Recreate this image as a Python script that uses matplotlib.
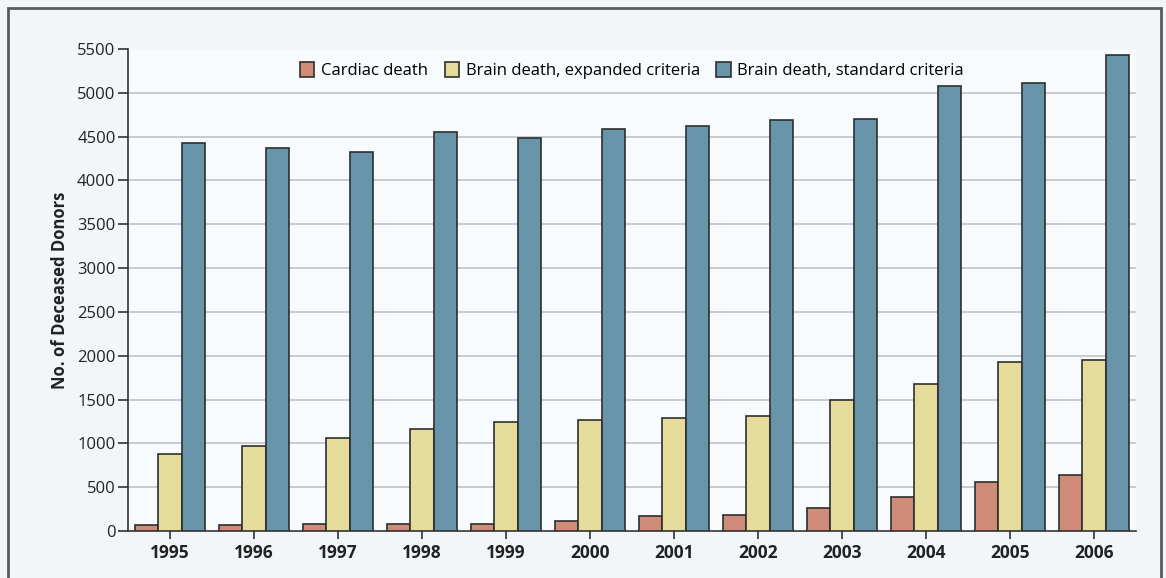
import matplotlib.pyplot as plt
import matplotlib.patches as mpatches
import numpy as np

plt.rcParams["font.family"] = ["Open Sans", "DejaVu Sans"]

YEARS = ["1995", "1996", "1997", "1998", "1999", "2000",
         "2001", "2002", "2003", "2004", "2005", "2006"]
CARDIAC = [65, 72, 80, 80, 85, 112, 167, 186, 266, 388, 559, 643]
EXPANDED = [875, 970, 1061, 1164, 1248, 1267, 1286, 1312, 1490, 1675, 1930, 1950]
STANDARD = [4422, 4370, 4330, 4549, 4490, 4592, 4625, 4686, 4697, 5080, 5110, 5430]

SERIES = [
    ("Cardiac death", CARDIAC, "#d08c78"),
    ("Brain death, expanded criteria", EXPANDED, "#e5dc9c"),
    ("Brain death, standard criteria", STANDARD, "#6895aa"),
]

fig = plt.figure(figsize=(11.66, 5.78), dpi=100, facecolor="#f3f6f9")
ax = fig.add_axes([0.1098, 0.0813, 0.8645, 0.8339])
ax.set_facecolor("#f7fbfe")

x = np.arange(len(YEARS))
w = 0.275
for i, (name, vals, col) in enumerate(SERIES):
    ax.bar(x + (i - 1) * w, vals, w, color=col, edgecolor="#2e2e2e",
           linewidth=1.2, label=name, zorder=3)

ax.set_xlim(-0.5, len(YEARS) - 0.5)
ax.set_ylim(0, 5500)
ax.set_yticks(np.arange(0, 5501, 500))
ax.set_xticks(x)
ax.set_xticklabels(YEARS, fontweight="bold")
ax.tick_params(axis="y", length=7, width=1.2, color="#333333", labelsize=12, pad=2,
               labelcolor="#222222")
ax.tick_params(axis="x", length=6, width=1.2, color="#333333", labelsize=12.5, pad=3,
               labelcolor="#222222")

for y in np.arange(500, 5001, 500):
    ax.axhline(y, color="#c3c6ca", lw=1.3, zorder=1)

for s in ("top", "right"):
    ax.spines[s].set_visible(False)
for s in ("left", "bottom"):
    ax.spines[s].set_color("#333333")
    ax.spines[s].set_linewidth(1.2)

ax.set_ylabel("No. of Deceased Donors", fontsize=12, fontweight="bold",
              color="#222222", labelpad=6)

ax.legend(loc="upper center", ncol=3, frameon=False, fontsize=12,
          handlelength=0.85, handleheight=1.05, handletextpad=0.4,
          columnspacing=1.0, bbox_to_anchor=(0.5, 1.0), borderaxespad=0.35)

# outer frame around the figure (bottom edge falls below the image)
fig.patches.append(mpatches.Rectangle((8 / 1166, -0.05), 1153 / 1166, 1.05 - 8 / 578,
                                      transform=fig.transFigure, fill=False,
                                      edgecolor="#5a5a5a", linewidth=2))

fig.savefig("out.png", dpi=100, facecolor=fig.get_facecolor())
